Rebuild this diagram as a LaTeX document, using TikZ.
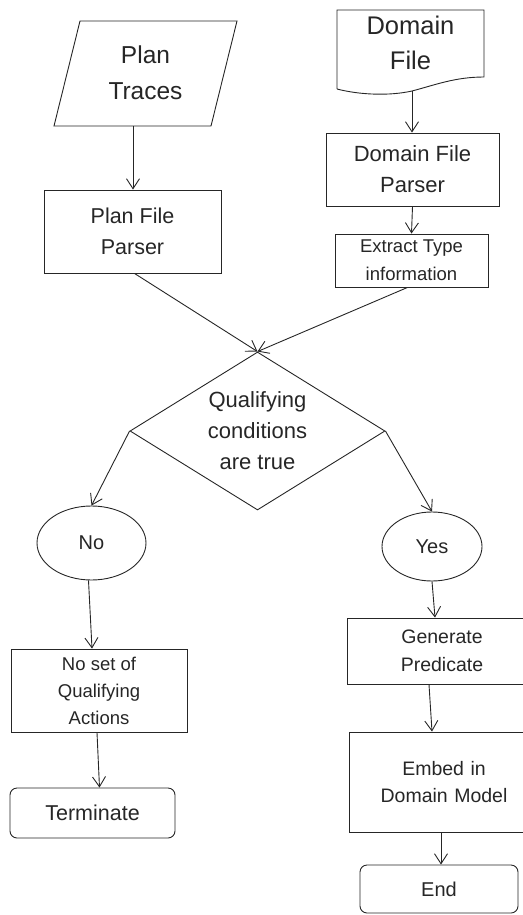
\documentclass[tikz,border=0pt]{standalone}
\usepackage{fontspec}
\setmainfont{Liberation Sans}
\usetikzlibrary{shapes.geometric,arrows.meta}
\tikzset{
  ln/.style={line width=0.9pt, draw=black!85},
  arr/.style={ln, -{Straight Barb[length=10pt,width=13pt,line width=0.9pt]}},
  txt/.style={align=center, inner sep=0pt, text=black!85},
  boxs/.style={ln, rectangle, align=center, inner sep=0pt, text=black!85},
  rbox/.style={boxs, rounded corners=7pt},
  ell/.style={ln, ellipse, inner sep=0pt, text=black!85},
}
\begin{document}
\begin{tikzpicture}[x=1pt,y=-1pt]
\useasboundingbox (0,0) rectangle (522,915);
% Plan Traces (parallelogram)
\draw[ln] (80,21) -- (237,21) -- (211,126) -- (54,126) -- cycle;
\node[txt, font=\fontsize{24.5}{36}\selectfont] (traces) at (145.5,73) {Plan\\Traces};
\coordinate (tbot) at (133,126);
% Domain File (document)
\draw[ln] (337,89) -- (337,10) -- (484,10) -- (484,77)
  .. controls (455,77) and (435,85) .. (412,91)
  .. controls (390,96) and (360,95) .. (337,89);
\node[txt, font=\fontsize{25.5}{35}\selectfont] (dfile) at (410.5,43) {Domain\\File};
\coordinate (dbot) at (412,91);
% boxes
\node[boxs, minimum width=177pt, minimum height=83pt, font=\fontsize{21.5}{31}\selectfont] (pfp) at (132.5,231.5) {Plan File\\Parser};
\node[boxs, minimum width=173pt, minimum height=73pt, font=\fontsize{22}{31}\selectfont] (dfp) at (412.5,169.5) {Domain File\\Parser};
\node[boxs, minimum width=153pt, minimum height=53pt, font=\fontsize{18.5}{28}\selectfont] (ext) at (411.5,260.5) {Extract Type\\information};
\node[ln, diamond, aspect=1.6, inner sep=0pt, minimum width=255pt, minimum height=158pt, align=center, text=black!85, font=\fontsize{22}{31}\selectfont] (cond) at (257.5,431) {Qualifying\\conditions\\are true};
\node[ell, minimum width=109pt, minimum height=74pt, font=\fontsize{20}{24}\selectfont] (no) at (91.5,543) {No};
\node[ell, minimum width=100pt, minimum height=69pt, font=\fontsize{20}{24}\selectfont] (yes) at (432,546.5) {Yes};
\node[boxs, minimum width=176pt, minimum height=83pt, font=\fontsize{18.5}{27}\selectfont] (noset) at (99,690.5) {No set of\\Qualifying\\Actions};
\node[rbox, minimum width=165pt, minimum height=50pt, font=\fontsize{21.5}{26}\selectfont] (term) at (92.5,813) {Terminate};
\node[boxs, minimum width=190pt, minimum height=66pt, font=\fontsize{19.5}{28}\selectfont, text width=174pt] (gen) at (442,651) {Generate\\Predicate};
\node[boxs, minimum width=190pt, minimum height=100pt, font=\fontsize{19.5}{27}\selectfont, text width=176pt] (embed) at (444,782) {Embed in\\Domain Model};
\node[rbox, minimum width=158pt, minimum height=48pt, font=\fontsize{20}{24}\selectfont] (endn) at (439,889) {End};
% connectors
\draw[arr] (tbot) -- (tbot |- pfp.north);
\draw[arr] (dbot) -- (dbot |- dfp.north);
\draw[arr] (dfp.south) -- (ext.north);
\draw[arr] ([xshift=2pt]pfp.south) -- (cond.north);
\draw[arr] ([xshift=-4pt]ext.south) -- (cond.north);
\draw[arr] (cond.west) -- (no.north);
\draw[arr] (cond.east) -- (yes.north);
\draw[arr] ([xshift=-3pt]no.south) -- ([xshift=-7pt]noset.north);
\draw[arr] ([xshift=-2pt]noset.south) -- ([xshift=7pt]term.north);
\draw[arr] (yes.south) -- ([xshift=-7pt]gen.north);
\draw[arr] ([xshift=-13pt]gen.south) -- ([xshift=-12pt]embed.north);
\draw[arr] ([xshift=-3pt]embed.south) -- ([xshift=2pt]endn.north);
\end{tikzpicture}
\end{document}
